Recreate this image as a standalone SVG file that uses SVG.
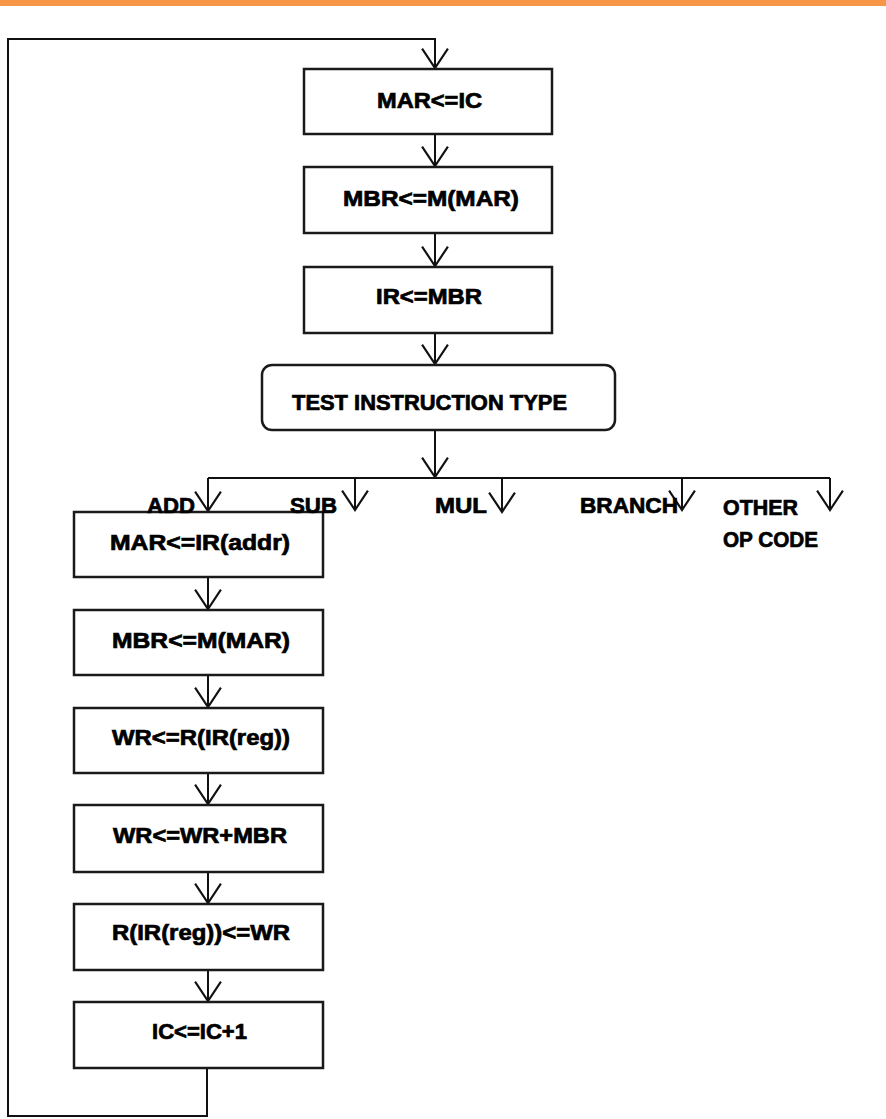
<svg xmlns="http://www.w3.org/2000/svg" width="886" height="1119" viewBox="0 0 886 1119">
<defs>
<marker id="arr" markerUnits="userSpaceOnUse" markerWidth="24" markerHeight="28" viewBox="0 0 20 26" refX="19" refY="13" orient="auto">
<path d="M1,1 L19,13 L1,25" fill="none" stroke="#111" stroke-width="2"/>
</marker>
<style>
.box{fill:#fff;stroke:#1a1a1a;stroke-width:2.5}
.ln{fill:none;stroke:#111;stroke-width:2}
.t{font-family:"Liberation Sans",Arial,sans-serif;font-weight:bold;font-size:22px;fill:#000;stroke:#000;stroke-width:0.7}
</style>
</defs>
<rect x="0" y="0" width="886" height="6" fill="#F79646"/>
<g id="connectors">
<path class="ln" d="M207,1068 L207,1116 L8,1116 L8,39 L435,39 L435,68" marker-end="url(#arr)"/>
<path class="ln" d="M435,134 L435,166" marker-end="url(#arr)"/>
<path class="ln" d="M435,233 L435,266" marker-end="url(#arr)"/>
<path class="ln" d="M435,333 L435,364" marker-end="url(#arr)"/>
<path class="ln" d="M435,430 L435,477" marker-end="url(#arr)"/>
<path class="ln" d="M208,478 L830,478"/>
<path class="ln" d="M208,478 L208,511" marker-end="url(#arr)"/>
<path class="ln" d="M355,478 L355,510" marker-end="url(#arr)"/>
<path class="ln" d="M502,478 L502,512" marker-end="url(#arr)"/>
<path class="ln" d="M682,478 L682,510" marker-end="url(#arr)"/>
<path class="ln" d="M830,478 L830,510" marker-end="url(#arr)"/>
<path class="ln" d="M208,577 L208,609" marker-end="url(#arr)"/>
<path class="ln" d="M208,675 L208,707" marker-end="url(#arr)"/>
<path class="ln" d="M208,773 L208,804" marker-end="url(#arr)"/>
<path class="ln" d="M208,872 L208,903" marker-end="url(#arr)"/>
<path class="ln" d="M208,970 L208,1001" marker-end="url(#arr)"/>
</g>
<g id="n1"><rect class="box" x="304" y="69" width="248" height="65"/><text class="t" x="377" y="108" textLength="105" lengthAdjust="spacingAndGlyphs">MAR&lt;=IC</text></g>
<g id="n2"><rect class="box" x="304" y="167" width="248" height="66"/><text class="t" x="343" y="206" textLength="176" lengthAdjust="spacingAndGlyphs">MBR&lt;=M(MAR)</text></g>
<g id="n3"><rect class="box" x="304" y="267" width="248" height="66"/><text class="t" x="376" y="304" textLength="106" lengthAdjust="spacingAndGlyphs">IR&lt;=MBR</text></g>
<g id="n4"><rect class="box" x="262" y="365" width="353" height="65" rx="10"/><text class="t" x="292" y="410" textLength="275" lengthAdjust="spacingAndGlyphs">TEST INSTRUCTION TYPE</text></g>
<g id="n5"><rect class="box" x="74" y="512" width="249" height="65"/><text class="t" x="110" y="550" textLength="180" lengthAdjust="spacingAndGlyphs">MAR&lt;=IR(addr)</text></g>
<g id="n6"><rect class="box" x="74" y="610" width="249" height="65"/><text class="t" x="112" y="648" textLength="178" lengthAdjust="spacingAndGlyphs">MBR&lt;=M(MAR)</text></g>
<g id="n7"><rect class="box" x="74" y="708" width="249" height="65"/><text class="t" x="112" y="745" textLength="178" lengthAdjust="spacingAndGlyphs">WR&lt;=R(IR(reg))</text></g>
<g id="n8"><rect class="box" x="74" y="805" width="249" height="67"/><text class="t" x="113" y="843" textLength="174" lengthAdjust="spacingAndGlyphs">WR&lt;=WR+MBR</text></g>
<g id="n9"><rect class="box" x="74" y="904" width="249" height="66"/><text class="t" x="112" y="940" textLength="178" lengthAdjust="spacingAndGlyphs">R(IR(reg))&lt;=WR</text></g>
<g id="n10"><rect class="box" x="74" y="1002" width="249" height="66"/><text class="t" x="152" y="1039" textLength="95" lengthAdjust="spacingAndGlyphs">IC&lt;=IC+1</text></g>
<g id="lbl-add"><text class="t" x="147" y="513" textLength="48" lengthAdjust="spacingAndGlyphs">ADD</text></g>
<g id="lbl-sub"><text class="t" x="290" y="513" textLength="47" lengthAdjust="spacingAndGlyphs">SUB</text></g>
<g id="lbl-mul"><text class="t" x="435" y="513" textLength="52" lengthAdjust="spacingAndGlyphs">MUL</text></g>
<g id="lbl-branch"><text class="t" x="580" y="513" textLength="98" lengthAdjust="spacingAndGlyphs">BRANCH</text></g>
<g id="lbl-other"><text class="t" x="723" y="515" textLength="75" lengthAdjust="spacingAndGlyphs">OTHER</text><text class="t" x="723" y="547" textLength="95" lengthAdjust="spacingAndGlyphs">OP CODE</text></g>
</svg>
